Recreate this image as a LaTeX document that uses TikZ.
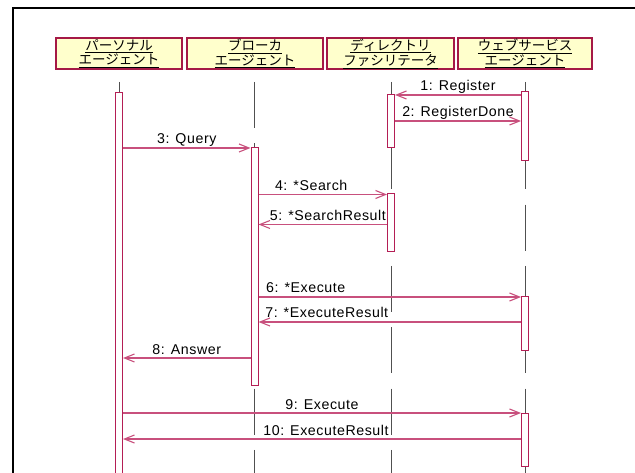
\documentclass[tikz,border=0pt]{standalone}
\usepackage{fontspec}
\setmainfont{Liberation Sans}[LetterSpace=4]
\newfontfamily\jpfont{Noto Sans CJK JP}
\usepackage{tikz}
\usetikzlibrary{arrows.meta}
\definecolor{boxline}{RGB}{165,25,70}
\definecolor{boxfill}{RGB}{255,255,204}
\definecolor{msgline}{RGB}{200,80,125}
\definecolor{actline}{RGB}{180,30,85}
\definecolor{lifegray}{RGB}{80,80,80}

\begin{document}
\begin{tikzpicture}[x=1pt,y=-1pt,
    head/.style={draw=boxline, fill=boxfill, line width=1.2pt, minimum height=31pt,
        inner sep=0.5pt, align=center, font=\jpfont\fontsize{13.5}{12.5}\selectfont},
    lifeline/.style={draw=lifegray, line width=0.7pt, dash pattern=on 46pt off 15.3pt},
    act/.style={draw=actline, fill=white, line width=1pt, minimum width=7pt, inner sep=0pt},
    msg/.style={draw=msgline, line width=1.1pt, -{Straight Barb[length=10pt,width=8pt]}},
    lbl/.style={font=\fontsize{14.2}{16}\selectfont, anchor=base, yshift=4pt, inner sep=0pt}]
    \useasboundingbox (0,0) rectangle (635,473);

    % Frame
    \draw[black, line width=2pt] (12.5,473) -- (12.5,8) -- (635,8);

    % Header boxes
    \node[head, minimum width=126pt] (personal) at (119,53.5) {\underline{パーソナル}\\\underline{エージェント}};
    \node[head, minimum width=136pt] (broker) at (255,53.5) {\underline{ブローカ}\\\underline{エージェント}};
    \node[head, minimum width=127pt] (directory) at (390.5,53.5) {\underline{ディレクトリ}\\\underline{ファシリテータ}};
    \node[head, minimum width=134pt] (websvc) at (525,53.5) {\underline{ウェブサービス}\\\underline{エージェント}};

    % Lifelines
    \draw[lifeline] (personal.south |- 0,82) -- (personal.south |- 0,480);
    \draw[lifeline] (254.5,82) -- (254.5,480);
    \draw[lifeline] (391,82) -- (391,480);
    \draw[lifeline] (websvc.south |- 0,82) -- (websvc.south |- 0,480);

    % Activation boxes
    \node[act, minimum height=387.5pt] (pAct) at (119,286.25) {};
    \node[act, minimum height=237pt] (bAct) at (254.5,266.5) {};
    \node[act, minimum height=53pt] (dAct1) at (391,121.5) {};
    \node[act, minimum height=58pt] (dAct2) at (391,223) {};
    \node[act, minimum height=69pt] (wAct1) at (525,126.5) {};
    \node[act, minimum height=53pt] (wAct2) at (525,323.5) {};
    \node[act, minimum height=53pt] (wAct3) at (525,439.5) {};

    % Messages
    \draw[msg] (wAct1.west |- 0,95) -- node[lbl] (m1) {1: Register} (dAct1.east |- 0,95);
    \draw[msg] (dAct1.east |- 0,121) -- node[lbl] (m2) {2: RegisterDone} (wAct1.west |- 0,121);
    \draw[msg] (pAct.east |- 0,148) -- node[lbl] (m3) {3: Query} (bAct.west |- 0,148);
    \draw[msg] (bAct.east |- 0,194.5) -- node[lbl, pos=0.41] (m4) {4: *Search} (dAct2.west |- 0,194.5);
    \draw[msg] (dAct2.west |- 0,224.5) -- node[lbl, pos=0.46] (m5) {5: *SearchResult} (bAct.east |- 0,224.5);
    \draw[msg] (bAct.east |- 0,297) -- node[lbl, pos=0.18] (m6) {6: *Execute} (wAct2.west |- 0,297);
    \draw[msg] (wAct2.west |- 0,322) -- node[lbl, pos=0.74] (m7) {7: *ExecuteResult} (bAct.east |- 0,322);
    \draw[msg] (bAct.west |- 0,358) -- node[lbl] (m8) {8: Answer} (pAct.east |- 0,358);
    \draw[msg] (pAct.east |- 0,413) -- node[lbl] (m9) {9: Execute} (wAct3.west |- 0,413);
    \draw[msg] (wAct3.west |- 0,439) -- node[lbl, pos=0.49] (m10) {10: ExecuteResult} (pAct.east |- 0,439);
\end{tikzpicture}
\end{document}
